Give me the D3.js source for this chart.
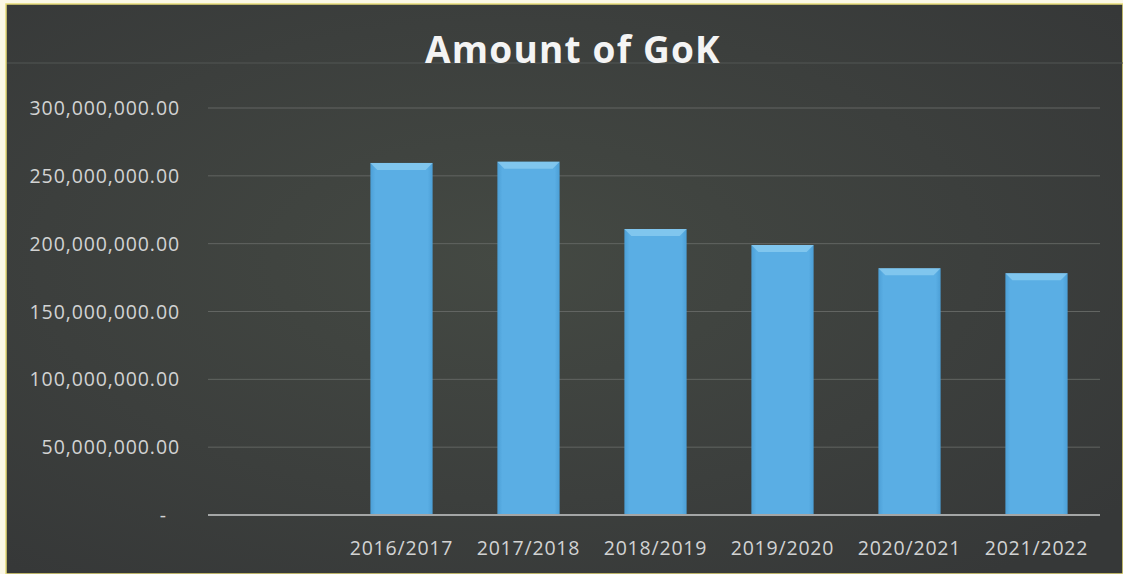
<!DOCTYPE html>
<meta charset="utf-8">
<script src="https://d3js.org/d3.v7.min.js"></script>
<style>
  body { margin: 0; background: #fdfbe8; }
  text { font-family: "Open Sans", sans-serif; }
</style>
<div id="chart"></div>
<script>
// first slot is empty in the original chart
var categories = ["", "2016/2017", "2017/2018", "2018/2019", "2019/2020", "2020/2021", "2021/2022"]
var amounts = [null, 259500000, 260400000, 210800000, 199000000, 181800000, 178200000]
var yTicks = [0, 50000000, 100000000, 150000000, 200000000, 250000000, 300000000]

var width = 1123
var height = 574
var margin = { top: 108, right: 23, bottom: 59, left: 211 }

var svg = d3.select("#chart")
    .append("svg")
    .attr("width", width)
    .attr("height", height)

var defs = svg.append("defs")

var bg = defs.append("radialGradient").attr("id", "bgGlow")
    .attr("cx", "45%").attr("cy", "45%").attr("r", "70%")
bg.append("stop").attr("offset", "0%").attr("stop-color", "#444943")
bg.append("stop").attr("offset", "60%").attr("stop-color", "#3c3f3d")
bg.append("stop").attr("offset", "100%").attr("stop-color", "#363838")

var barGrad = defs.append("linearGradient").attr("id", "barGrad")
    .attr("x1", "0%").attr("x2", "100%")
barGrad.append("stop").attr("offset", "0%").attr("stop-color", "#4c9fd6")
barGrad.append("stop").attr("offset", "8%").attr("stop-color", "#5aaee4")
barGrad.append("stop").attr("offset", "92%").attr("stop-color", "#5aaee4")
barGrad.append("stop").attr("offset", "100%").attr("stop-color", "#4c9fd6")

// scanned page edge
svg.append("rect").attr("width", width).attr("height", height).attr("fill", "#fbf8e6")
svg.append("rect")
    .attr("x", 6).attr("y", 4)
    .attr("width", width - 6).attr("height", height - 4)
    .attr("fill", "url(#bgGlow)")
    .attr("stroke", "#e8dc7a").attr("stroke-width", 1.5)

// faint line under the title
svg.append("line")
    .attr("x1", 7).attr("x2", width)
    .attr("y1", 63).attr("y2", 63)
    .attr("stroke", "#535654").attr("stroke-width", 1)

svg.append("text")
    .attr("x", 573)
    .attr("y", 63)
    .attr("text-anchor", "middle")
    .attr("fill", "#f4f4f4")
    .attr("font-size", 37)
    .attr("font-weight", "bold")
    .attr("letter-spacing", 1.2)
    .text("Amount of GoK")

var x = d3.scaleBand()
    .domain(categories)
    .range([margin.left, width - margin.right])
    .paddingInner(0.51)
    .paddingOuter(0.255)

var y = d3.scaleLinear()
    .domain([0, 300000000])
    .range([height - margin.bottom, margin.top])

// gridlines
svg.append("g")
    .selectAll("line")
    .data(yTicks.slice(1))
    .enter()
    .append("line")
    .attr("x1", margin.left - 3)
    .attr("x2", width - margin.right)
    .attr("y1", function (d) { return y(d) })
    .attr("y2", function (d) { return y(d) })
    .attr("stroke", "#626562")
    .attr("stroke-width", 1)

// y labels
var fmt = d3.format(",.2f")
svg.append("g")
    .selectAll("text")
    .data(yTicks)
    .enter()
    .append("text")
    .attr("x", function (d) { return d === 0 ? 167 : 180 })
    .attr("y", function (d) { return y(d) + 7 })
    .attr("text-anchor", "end")
    .attr("fill", "#d2d3d3")
    .attr("font-size", 19.5)
    .attr("letter-spacing", 0.9)
    .text(function (d) { return d === 0 ? "-" : fmt(d) })

// bars
var bars = svg.append("g")
    .selectAll("g")
    .data(categories.map(function (c, i) { return { cat: c, value: amounts[i] } })
        .filter(function (d) { return d.value !== null }))
    .enter()
    .append("g")

bars.append("rect")
    .attr("x", function (d) { return x(d.cat) })
    .attr("y", function (d) { return y(d.value) })
    .attr("width", x.bandwidth())
    .attr("height", function (d) { return y(0) - y(d.value) })
    .attr("fill", "url(#barGrad)")

// bevel highlight on top
bars.append("path")
    .attr("d", function (d) {
        var x0 = x(d.cat), x1 = x0 + x.bandwidth(), t = y(d.value), b = 7
        return "M" + x0 + "," + t + "L" + x1 + "," + t + "L" + (x1 - b) + "," + (t + b) +
            "L" + (x0 + b) + "," + (t + b) + "Z"
    })
    .attr("fill", "#8ecdf2")
    .attr("opacity", 0.75)

// x axis line
svg.append("line")
    .attr("x1", margin.left - 3)
    .attr("x2", width - margin.right)
    .attr("y1", y(0))
    .attr("y2", y(0))
    .attr("stroke", "#a4a6a6")
    .attr("stroke-width", 2)

// x labels
svg.append("g")
    .selectAll("text")
    .data(categories)
    .enter()
    .append("text")
    .attr("x", function (d) { return x(d) + x.bandwidth() / 2 })
    .attr("y", 555)
    .attr("text-anchor", "middle")
    .attr("fill", "#d2d3d3")
    .attr("font-size", 19.5)
    .attr("letter-spacing", 0.8)
    .text(function (d) { return d })
</script>
